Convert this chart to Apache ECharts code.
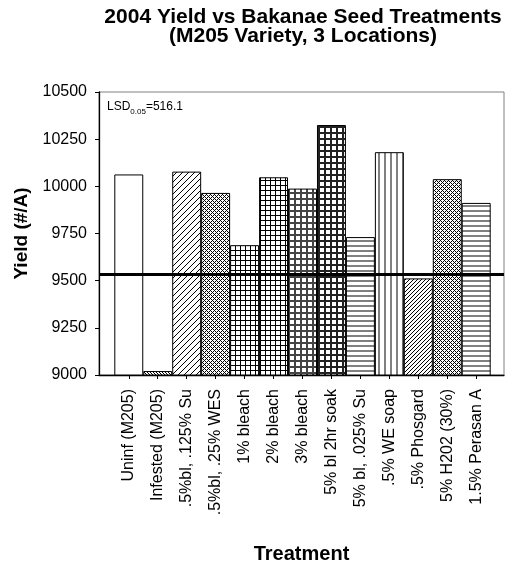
<!DOCTYPE html>
<html>
<head>
<meta charset="utf-8">
<script src="https://cdn.jsdelivr.net/npm/echarts@6/dist/echarts.min.js"></script>
<style>html,body{margin:0;padding:0;background:#fff}#c{width:513px;height:564px}</style>
</head>
<body>
<div id="c"></div>
<script>
const categories = ['Uninf (M205)','Infested (M205)','.5%bl, .125% Su','.5%bl, .25% WES','1% bleach','2% bleach','3% bleach','5% bl 2hr soak','5% bl, .025% Su','.5% WE soap','.5% Phosgard','5% H202 (30%)','1.5% Perasan A'];
const yields = [10063, 9021, 10078, 9965, 9688, 10048, 9988, 10325, 9731, 10181, 9512, 10038, 9912];
const refLine = 9533;
const lsdValue = '516.1';
const yTicks = [9000, 9250, 9500, 9750, 10000, 10250, 10500];

function tile(w, h, test, color) {
  const c = document.createElement('canvas');
  c.width = w; c.height = h;
  const g = c.getContext('2d');
  g.fillStyle = '#fff'; g.fillRect(0, 0, w, h);
  g.fillStyle = color || '#000';
  for (let x = 0; x < w; x++) for (let y = 0; y < h; y++) if (test(x, y)) g.fillRect(x, y, 1, 1);
  return { image: c, repeat: 'repeat' };
}
const P = {
  white: '#ffffff',
  backDense: tile(3, 3, (x, y) => ((x - y + 30) % 3) === 0),
  fwd: tile(6, 6, (x, y) => ((x + y) % 6) === 0),
  diagCross: tile(4, 4, (x, y) => ((x + y) % 4) === 0 || ((x - y + 40) % 4) === 0),
  gridThin: tile(5, 5, (x, y) => x % 5 === 0 || y % 5 === 0),
  gridMid: tile(6, 6, (x, y) => x % 6 < 2 || y % 6 < 2, '#444'),
  gridBold: tile(6, 6, (x, y) => x % 6 < 2 || y % 6 < 2, '#222'),
  hLines: tile(5, 5, (x, y) => y % 5 < 2, '#808080'),
  vLines: tile(6, 6, (x, y) => x % 6 < 2, '#808080'),
  fwdDense: tile(4, 4, (x, y) => ((x + y) % 4) === 0)
};
const fills = [P.white, P.backDense, P.fwd, P.diagCross, P.gridThin, P.gridThin, P.gridMid, P.gridBold, P.hLines, P.vLines, P.fwdDense, P.diagCross, P.hLines];

const FONT = '"Liberation Sans", Arial, sans-serif';
const chart = echarts.init(document.getElementById('c'), null, { renderer: 'canvas' });
chart.setOption({
  animation: false,
  backgroundColor: '#fff',
  title: {
    text: '2004 Yield vs Bakanae Seed Treatments\n(M205 Variety, 3 Locations)',
    left: 298, top: 3, textAlign: 'center',
    textStyle: { fontFamily: FONT, fontSize: 21, fontWeight: 'bold', color: '#000', lineHeight: 19 }
  },
  graphic: [{
    type: 'text', left: 107, top: 101, z: 100,
    style: {
      text: '{a|LSD}{b|0.05}{a|=' + lsdValue + '}',
      rich: {
        a: { fontFamily: FONT, fontSize: 12, fill: '#000', verticalAlign: 'bottom', lineHeight: 14 },
        b: { fontFamily: FONT, fontSize: 8, fill: '#000', verticalAlign: 'bottom', lineHeight: 10, padding: [0, 0, -3, 0] }
      }
    }
  }],
  grid: [
    { left: 99, right: 9, top: 92, bottom: 189, outerBoundsMode: 'none', containLabel: false, show: true, borderColor: '#808080', borderWidth: 1, backgroundColor: 'transparent' },
    { left: 114.3, right: 22.3, top: 92, bottom: 189, outerBoundsMode: 'none', containLabel: false }
  ],
  xAxis: [
    { gridIndex: 0, type: 'value', min: 0, max: 1, axisLine: { show: true, onZero: false, lineStyle: { color: '#000', width: 1.3 } },
      axisTick: { show: false }, axisLabel: { show: false }, splitLine: { show: false },
      name: 'Treatment', nameLocation: 'middle', nameGap: 169,
      nameTextStyle: { fontFamily: FONT, fontSize: 20, fontWeight: 'bold', color: '#000' } },
    { gridIndex: 1, type: 'category', data: categories, boundaryGap: true,
      axisLine: { show: false },
      axisTick: { show: true, alignWithLabel: true, inside: false, length: 4, lineStyle: { color: '#000', width: 1 } },
      axisLabel: { rotate: 90, interval: 0, margin: 14, fontFamily: FONT, fontSize: 16, color: '#000' } }
  ],
  yAxis: [
    { gridIndex: 0, type: 'value', min: 9000, max: 10500, interval: 250,
      axisLine: { show: true, lineStyle: { color: '#000', width: 1.3 } },
      axisTick: { show: true, inside: false, length: 4, lineStyle: { color: '#000' } },
      axisLabel: { margin: 12, fontFamily: FONT, fontSize: 16, color: '#000', formatter: v => yTicks.includes(v) ? String(v) : '' },
      splitLine: { show: false },
      name: 'Yield (#/A)', nameLocation: 'middle', nameGap: 64,
      nameTextStyle: { fontFamily: FONT, fontSize: 19, fontWeight: 'bold', color: '#000' } },
    { gridIndex: 1, type: 'value', min: 9000, max: 10500, interval: 250, show: false }
  ],
  series: [
    { type: 'bar', xAxisIndex: 1, yAxisIndex: 1, barWidth: '100%', barCategoryGap: 0,
      data: yields.map((v, i) => ({ value: v, itemStyle: { color: fills[i] } })),
      itemStyle: { borderColor: '#000', borderWidth: 1 } },
    { type: 'line', xAxisIndex: 0, yAxisIndex: 0, symbol: 'none', z: 10,
      data: [[0, refLine], [1, refLine]], lineStyle: { color: '#000', width: 3 } }
  ]
});
</script>
</body>
</html>
